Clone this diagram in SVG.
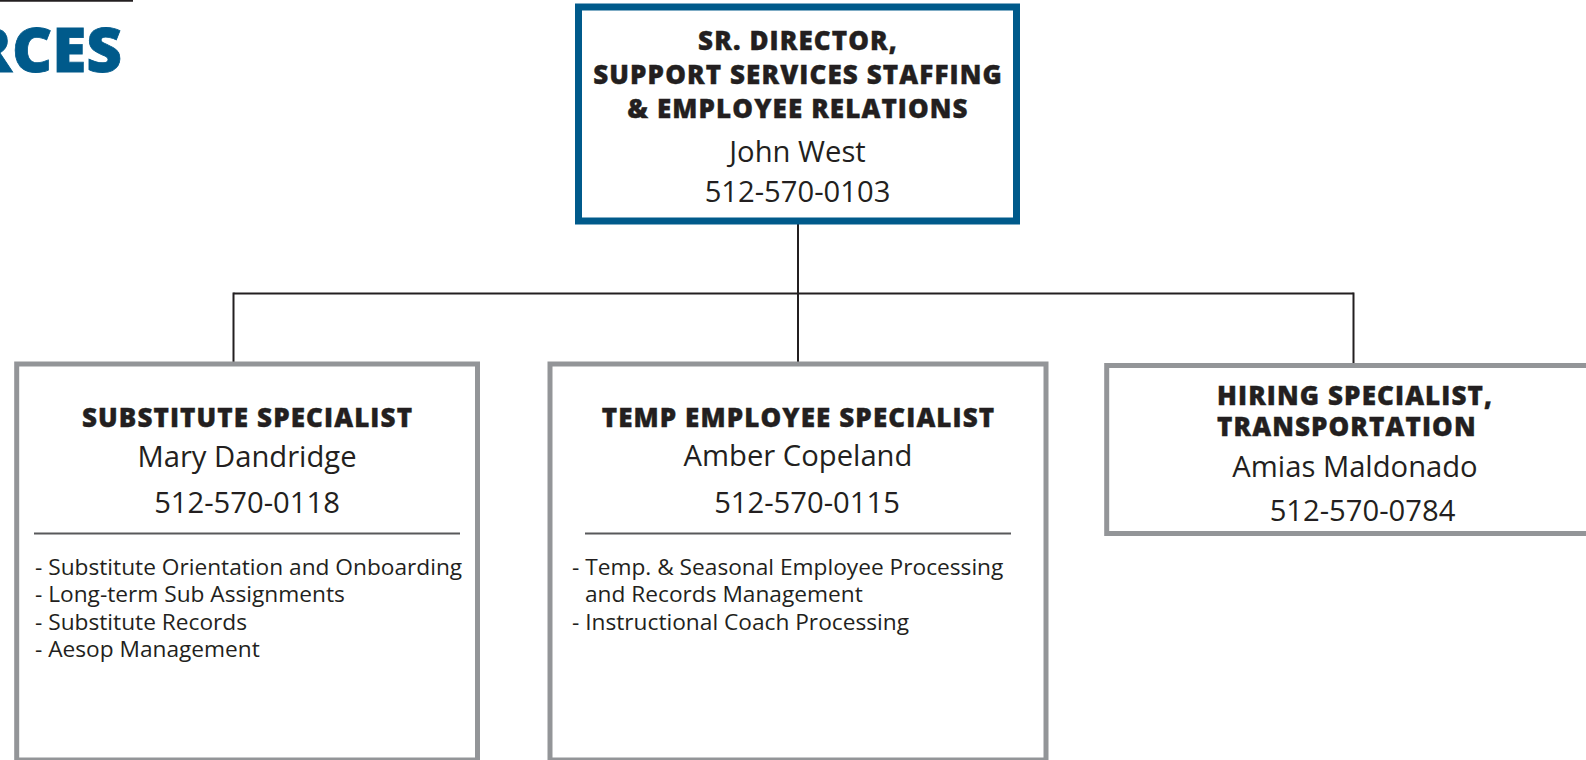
<svg xmlns="http://www.w3.org/2000/svg" width="1586" height="760" viewBox="0 0 1586 760">
<style>
  text { font-family: "Open Sans", "Liberation Sans", sans-serif; fill: #231f20; }
  .t { font-weight: 800; font-size: 26px; text-anchor: middle; letter-spacing: 1.1px; stroke: #231f20; stroke-width: 0.4; }
  .n { font-size: 29.2px; text-anchor: middle; }
  .b { font-size: 22.7px; }
  .box { fill: #ffffff; stroke: #939598; stroke-width: 5; }
  .conn { stroke: #231f20; stroke-width: 2; fill: none; }
  .sep { stroke: #58595b; stroke-width: 1.8; }
</style>
<rect width="1586" height="760" fill="#ffffff"/>
<g id="header">
  <line x1="0" y1="0.8" x2="133" y2="0.8" stroke="#231f20" stroke-width="2"/>
  <text x="122" y="72" style="font-weight:800;font-size:62px;fill:#005a8b;text-anchor:end;stroke:#005a8b;stroke-width:0.8">RCES</text>
</g>
<g id="connectors">
  <line class="conn" x1="798" y1="222" x2="798" y2="364"/>
  <line class="conn" x1="233.5" y1="293.5" x2="1353.5" y2="293.5"/>
  <line class="conn" x1="233.5" y1="292.5" x2="233.5" y2="364"/>
  <line class="conn" x1="1353.5" y1="292.5" x2="1353.5" y2="364"/>
</g>
<g id="director">
  <rect x="578.5" y="7" width="438" height="214" fill="#ffffff" stroke="#005a8b" stroke-width="7"/>
  <text class="t" x="798" y="50">SR. DIRECTOR,</text>
  <text class="t" x="798" y="84">SUPPORT SERVICES STAFFING</text>
  <text class="t" x="798" y="118">&amp; EMPLOYEE RELATIONS</text>
  <text class="n" x="797.5" y="162">John West</text>
  <text class="n" x="797.5" y="202">512-570-0103</text>
</g>
<g id="substitute">
  <rect class="box" x="16.7" y="364" width="460.8" height="396"/>
  <text class="t" x="247.5" y="427">SUBSTITUTE SPECIALIST</text>
  <text class="n" x="247" y="467">Mary Dandridge</text>
  <text class="n" x="247" y="513">512-570-0118</text>
  <line class="sep" x1="34" y1="533.5" x2="460" y2="533.5"/>
  <text class="b" x="35" y="575">- Substitute Orientation and Onboarding</text>
  <text class="b" x="35" y="602">- Long-term Sub Assignments</text>
  <text class="b" x="35" y="629.5">- Substitute Records</text>
  <text class="b" x="35" y="657">- Aesop Management</text>
</g>
<g id="temp">
  <rect class="box" x="550" y="364" width="496" height="396"/>
  <text class="t" x="798.5" y="427">TEMP EMPLOYEE SPECIALIST</text>
  <text class="n" x="798" y="466">Amber Copeland</text>
  <text class="n" x="807" y="513">512-570-0115</text>
  <line class="sep" x1="585" y1="533.5" x2="1011" y2="533.5"/>
  <text class="b" x="572" y="575">- Temp. &amp; Seasonal Employee Processing</text>
  <text class="b" x="585" y="602">and Records Management</text>
  <text class="b" x="572" y="629.5">- Instructional Coach Processing</text>
</g>
<g id="hiring">
  <rect class="box" x="1106.7" y="365.5" width="500" height="168"/>
  <text class="t" x="1217" y="405" style="text-anchor:start">HIRING SPECIALIST,</text>
  <text class="t" x="1217" y="436" style="text-anchor:start">TRANSPORTATION</text>
  <text class="n" x="1355" y="477">Amias Maldonado</text>
  <text class="n" x="1362.5" y="520.5">512-570-0784</text>
</g>
</svg>
